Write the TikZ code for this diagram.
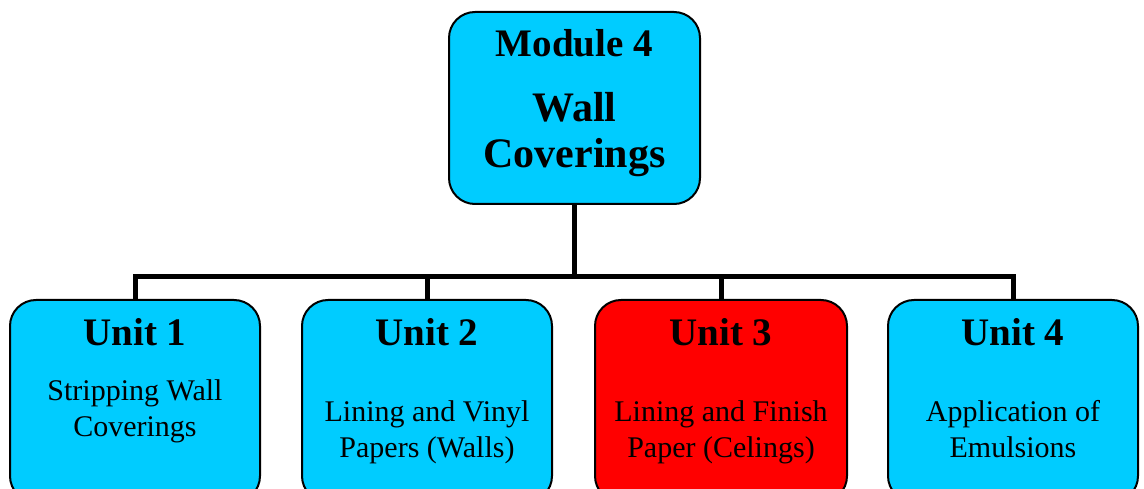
\documentclass[tikz,border=0pt]{standalone}
\usepackage{fontspec}
\setmainfont{Liberation Serif}
\definecolor{boxcyan}{HTML}{00CCFF}
\definecolor{boxred}{HTML}{FF0000}
\begin{document}
\begin{tikzpicture}[x=1pt,y=-1pt,
  box/.style={draw=black, line width=2pt, rounded corners=26pt, fill=boxcyan, inner sep=0pt},
  redbox/.style={box, fill=boxred},
  conn/.style={draw=black, line width=5pt},
  head/.style={anchor=base, font=\fontsize{39}{43}\selectfont\bfseries, inner sep=0pt},
  big/.style={anchor=base, font=\fontsize{42}{46}\selectfont\bfseries, inner sep=0pt},
  sub/.style={anchor=base, font=\fontsize{30}{34}\selectfont, inner sep=0pt}]
\useasboundingbox (0,0) rectangle (1144,489);
\node[box, minimum width=251pt, minimum height=192pt] (top) at (574.5,108) {};
\node[box, minimum width=250pt, minimum height=202pt] (u1) at (135,401) {};
\node[box, minimum width=250pt, minimum height=202pt] (u2) at (427,401) {};
\node[redbox, minimum width=252pt, minimum height=202pt] (u3) at (721,401) {};
\node[box, minimum width=250pt, minimum height=202pt] (u4) at (1013,401) {};
\coordinate (bar) at (574.5,277);
\draw[conn] (top.south) -- (bar);
\draw[conn, line cap=rect] (u1.north) |- (u4.north |- bar) -- (u4.north);
\draw[conn] (u2.north) -- (u2.north |- bar);
\draw[conn] (u3.north) -- (u3.north |- bar);
% top text
\node[head] (t1) at (574.5,57) {Module 4};
\node[big] (t2) at (574.5,122) {Wall};
\node[big] (t3) at (574.5,168) {Coverings};
% unit titles
\node[head] (h1) at (135,345) {Unit 1};
\node[head] (h2) at (427,345) {Unit 2};
\node[head] (h3) at (721,345) {Unit 3};
\node[head] (h4) at (1013,345) {Unit 4};
% subtexts
\node[sub] (s1a) at (135,400) {Stripping Wall};
\node[sub] (s1b) at (135,436) {Coverings};
\node[sub] (s2a) at (427,421) {Lining and Vinyl};
\node[sub] (s2b) at (427,457) {Papers (Walls)};
\node[sub] (s3a) at (721,421) {Lining and Finish};
\node[sub] (s3b) at (721,457) {Paper (Celings)};
\node[sub] (s4a) at (1013,421) {Application of};
\node[sub] (s4b) at (1013,457) {Emulsions};
\end{tikzpicture}
\end{document}
